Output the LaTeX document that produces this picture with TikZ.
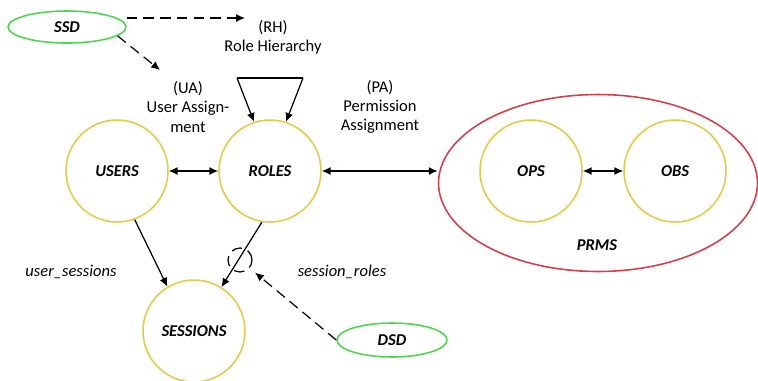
\documentclass[tikz,border=0pt]{standalone}
\usepackage{fontspec}
\setmainfont{Carlito}
\usepackage{tikz}
\usetikzlibrary{shapes.geometric,arrows.meta}
\definecolor{setyellow}{RGB}{230,203,72}
\definecolor{sodgreen}{RGB}{78,214,78}
\definecolor{prmsred}{RGB}{214,62,74}
\tikzset{>={Latex[length=5pt,width=4.5pt]}}
\tikzset{every node/.style={font=\fontsize{9.4}{11}\selectfont}}
\tikzset{set/.style={circle,draw=setyellow,line width=0.9pt,minimum size=2.04cm,inner sep=0pt,font=\fontsize{9.4}{11}\selectfont\bfseries\itshape}}
\tikzset{sod/.style={ellipse,draw=sodgreen,line width=0.9pt,inner sep=0pt,font=\fontsize{9.4}{11}\selectfont\bfseries\itshape}}
\tikzset{lbl/.style={align=center}}
\tikzset{rel/.style={line width=0.7pt}}
\tikzset{dsh/.style={line width=0.7pt,dash pattern=on 6pt off 3.5pt}}

\begin{document}
\begin{tikzpicture}[x=0.02cm,y=-0.02cm]
	\useasboundingbox (0,0) rectangle (758,380);
	\node[set] (users) at (117,171) {USERS};
	\node[set] (roles) at (270,171) {ROLES};
	\node[set] (sessions) at (194,331) {SESSIONS};
	\node[ellipse,draw=prmsred,line width=0.9pt,minimum width=6.38cm,minimum height=3.54cm,inner sep=0pt] (prms) at (598,183) {};
	\node[font=\fontsize{9.4}{11}\selectfont\bfseries\itshape] (prmslbl) at (597,245) {PRMS};
	\node[set] (ops) at (531,171) {OPS};
	\node[set] (obs) at (675,171) {OBS};
	\node[sod,minimum width=2.36cm,minimum height=0.64cm] (ssd) at (67,27) {SSD};
	\node[sod,minimum width=2.2cm,minimum height=0.68cm] (dsd) at (392,340) {DSD};
	\node[circle,draw,dsh,minimum size=0.48cm,inner sep=0pt] (ring) at (240,260) {};
	\node[lbl] (rh) at (273,37) {(RH)\\Role Hierarchy};
	\node[lbl] (ua) at (188,107) {(UA)\\User Assign-\\ment};
	\node[lbl] (pa) at (380,107) {(PA)\\Permission\\Assignment};
	\node[font=\fontsize{9.4}{11}\selectfont\itshape] (us) at (71,272) {user\_sessions};
	\node[font=\fontsize{9.4}{11}\selectfont\itshape] (sr) at (342,272) {session\_roles};
	\coordinate (rh1) at (237,78);
	\coordinate (rh2) at (303,78);
	\coordinate (rhend) at (245,18);
	\coordinate (uaend) at (160,70);
	\draw[rel,<->] (users) -- (roles);
	\draw[rel,<->] (roles.east) -- (roles.east -| prms.west);
	\draw[rel,<->] (ops) -- (obs);
	\draw[rel] (rh1) -- (rh2);
	\draw[rel,->] (rh1) -- (roles.108);
	\draw[rel,->] (rh2) -- (roles.72);
	\draw[rel,->] (users.-70) -- (sessions.121);
	\draw[rel,->] (roles.-99) -- (sessions.58);
	\draw[dsh,->] (ssd.east |- rhend) -- (rhend);
	\draw[dsh,->] (ssd.-10) -- (uaend);
	\draw[dsh,->,shorten >=4pt] (dsd.west) -- (ring.-40);
\end{tikzpicture}
\end{document}
